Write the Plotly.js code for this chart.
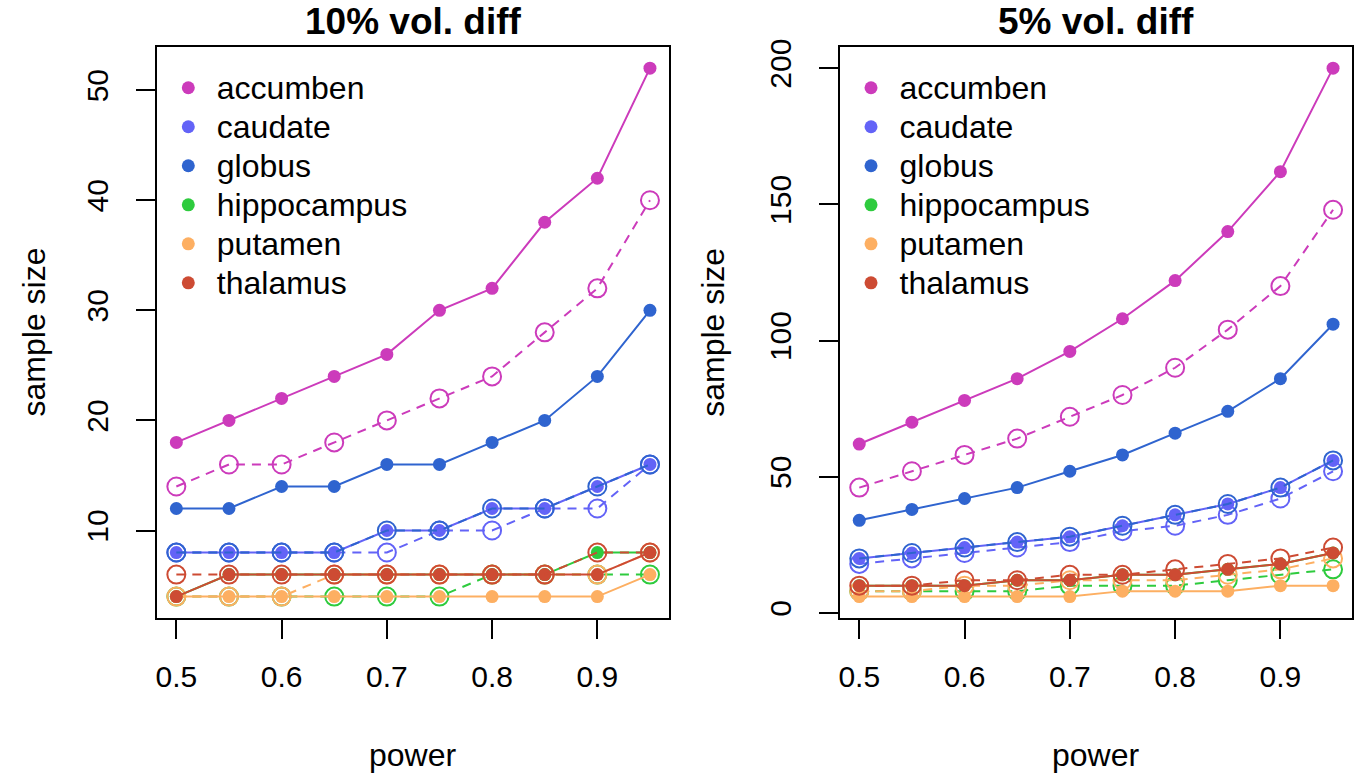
<!DOCTYPE html>
<html>
<head>
<meta charset="utf-8">
<script src="https://cdn.plot.ly/plotly-3.0.1.min.js"></script>
<style>html,body{margin:0;padding:0;background:#fff}#chart{width:1360px;height:777px}</style>
</head>
<body>
<div id="chart"></div>
<script>
// ---- data ----
const power = [0.5, 0.55, 0.6, 0.65, 0.7, 0.75, 0.8, 0.85, 0.9, 0.95];
const xTickVals = [0.5, 0.6, 0.7, 0.8, 0.9];
const xTickText = ['0.5', '0.6', '0.7', '0.8', '0.9'];
const structures = ['accumben', 'caudate', 'globus', 'hippocampus', 'putamen', 'thalamus'];
const colors = ['#CC3BBB', '#6363F7', '#2F64CF', '#2ECB3E', '#FDAF62', '#CD4B33'];
const panelTitles = ['10% vol. diff', '5% vol. diff'];
const yTicks10 = [10, 20, 30, 40, 50];
const yTicks5 = [0, 50, 100, 150, 200];

// 10% volume difference (solid = filled points, dashed = open points)
const accumben10_solid = [18, 20, 22, 24, 26, 30, 32, 38, 42, 52];
const accumben10_dash  = [14, 16, 16, 18, 20, 22, 24, 28, 32, 40];
const caudate10_solid  = [8, 8, 8, 8, 10, 10, 12, 12, 14, 16];
const caudate10_dash   = [8, 8, 8, 8, 8, 10, 10, 12, 12, 16];
const globus10_solid   = [12, 12, 14, 14, 16, 16, 18, 20, 24, 30];
const globus10_dash    = [8, 8, 8, 8, 10, 10, 12, 12, 14, 16];
const hippo10_solid    = [4, 6, 6, 6, 6, 6, 6, 6, 8, 8];
const hippo10_dash     = [4, 4, 4, 4, 4, 4, 6, 6, 6, 6];
const putamen10_solid  = [4, 4, 4, 4, 4, 4, 4, 4, 4, 6];
const putamen10_dash   = [4, 4, 4, 6, 6, 6, 6, 6, 6, 8];
const thalamus10_solid = [4, 6, 6, 6, 6, 6, 6, 6, 6, 8];
const thalamus10_dash  = [6, 6, 6, 6, 6, 6, 6, 6, 8, 8];

// 5% volume difference
const accumben5_solid = [62, 70, 78, 86, 96, 108, 122, 140, 162, 200];
const accumben5_dash  = [46, 52, 58, 64, 72, 80, 90, 104, 120, 148];
const caudate5_solid  = [20, 22, 24, 26, 28, 32, 36, 40, 46, 56];
const caudate5_dash   = [18, 20, 22, 24, 26, 30, 32, 36, 42, 52];
const globus5_solid   = [34, 38, 42, 46, 52, 58, 66, 74, 86, 106];
const globus5_dash    = [20, 22, 24, 26, 28, 32, 36, 40, 46, 56];
const hippo5_solid    = [10, 10, 10, 12, 12, 14, 14, 16, 18, 22];
const hippo5_dash     = [8, 8, 8, 8, 10, 10, 10, 12, 14, 16];
const putamen5_solid  = [6, 6, 6, 6, 6, 8, 8, 8, 10, 10];
const putamen5_dash   = [8, 8, 10, 10, 12, 12, 12, 14, 16, 20];
const thalamus5_solid = [10, 10, 10, 12, 12, 14, 14, 16, 18, 22];
const thalamus5_dash  = [10, 10, 12, 12, 14, 14, 16, 18, 20, 24];

const panel10 = [
  [accumben10_solid, accumben10_dash], [caudate10_solid, caudate10_dash],
  [globus10_solid, globus10_dash], [hippo10_solid, hippo10_dash],
  [putamen10_solid, putamen10_dash], [thalamus10_solid, thalamus10_dash]
];
const panel5 = [
  [accumben5_solid, accumben5_dash], [caudate5_solid, caudate5_dash],
  [globus5_solid, globus5_dash], [hippo5_solid, hippo5_dash],
  [putamen5_solid, putamen5_dash], [thalamus5_solid, thalamus5_dash]
];

// ---- traces ----
const FONT = 'Liberation Sans, Arial, Helvetica, sans-serif';
const traces = [];
function addPanel(panel, xa, ya, legendId) {
  panel.forEach((pair, i) => {
    traces.push({
      x: power, y: pair[0], xaxis: xa, yaxis: ya, type: 'scatter', mode: 'lines+markers',
      line: {color: colors[i], width: 2}, marker: {color: colors[i], size: 13, symbol: 'circle'},
      showlegend: false, hoverinfo: 'skip'
    });
    traces.push({
      x: power, y: pair[1], xaxis: xa, yaxis: ya, type: 'scatter', mode: 'lines+markers',
      line: {color: colors[i], width: 2, dash: '9px,7px'},
      marker: {color: colors[i], size: 18, symbol: 'circle-open', line: {width: 2, color: colors[i]}},
      showlegend: false, hoverinfo: 'skip'
    });
  });
  structures.forEach((name, i) => {
    traces.push({
      x: [null], y: [null], xaxis: xa, yaxis: ya, type: 'scatter', mode: 'markers',
      name: '<span style="font-size:32px">' + name + '</span>',
      marker: {color: colors[i], size: 13}, showlegend: true, legend: legendId
    });
  });
}
addPanel(panel10, 'x', 'y', 'legend');
addPanel(panel5, 'x2', 'y2', 'legend2');

function xAxis(domain, anchor) {
  return {
    domain: domain, anchor: anchor, range: [0.482, 0.968],
    tickvals: xTickVals, ticktext: xTickText,
    showline: true, mirror: true, linecolor: '#000', linewidth: 2,
    ticks: 'outside', ticklen: 19, tickwidth: 2, tickcolor: '#000',
    tickfont: {family: FONT, size: 30, color: '#000'}, ticklabelstandoff: 12,
    showgrid: false, zeroline: false, fixedrange: true
  };
}
function yAxis(domain, anchor, range, tv) {
  return {
    domain: domain, anchor: anchor, range: range,
    tickvals: tv, ticktext: tv.map(String), tickangle: -90,
    showline: true, mirror: true, linecolor: '#000', linewidth: 2,
    ticks: 'outside', ticklen: 19, tickwidth: 2, tickcolor: '#000',
    tickfont: {family: FONT, size: 30, color: '#000'}, ticklabelstandoff: 16,
    showgrid: false, zeroline: false, fixedrange: true
  };
}
const yDom = [0.2050, 0.9395];
const legendBase = {
  bgcolor: 'rgba(0,0,0,0)', borderwidth: 0, xanchor: 'left', yanchor: 'top',
  font: {family: FONT, size: 27.7, color: '#000'}, itemwidth: 47, tracegroupgap: 0
};

const layout = {
  width: 1360, height: 777,
  margin: {l: 0, r: 0, t: 0, b: 0},
  paper_bgcolor: '#fff', plot_bgcolor: '#fff',
  font: {family: FONT, color: '#000'},
  xaxis: xAxis([0.11574, 0.49184], 'y'),
  yaxis: yAxis(yDom, 'x', [2.08, 53.92], yTicks10),
  xaxis2: xAxis([0.61787, 0.99412], 'y2'),
  yaxis2: yAxis(yDom, 'x2', [-1.76, 207.76], yTicks5),
  legend: Object.assign({x: 0.1175, y: 0.9186}, legendBase),
  legend2: Object.assign({x: 0.6195, y: 0.9186}, legendBase),
  annotations: [
    {text: '<b>' + panelTitles[0] + '</b>', xref: 'paper', yref: 'paper', x: 0.3038, y: 0.9717,
     xanchor: 'center', yanchor: 'middle', showarrow: false, font: {family: FONT, size: 37, color: '#000'}},
    {text: '<b>' + panelTitles[1] + '</b>', xref: 'paper', yref: 'paper', x: 0.8059, y: 0.9717,
     xanchor: 'center', yanchor: 'middle', showarrow: false, font: {family: FONT, size: 37, color: '#000'}},
    {text: 'power', xref: 'paper', yref: 'paper', x: 0.3038, y: 0.0283,
     xanchor: 'center', yanchor: 'middle', showarrow: false, font: {family: FONT, size: 32, color: '#000'}},
    {text: 'power', xref: 'paper', yref: 'paper', x: 0.8059, y: 0.0283,
     xanchor: 'center', yanchor: 'middle', showarrow: false, font: {family: FONT, size: 32, color: '#000'}},
    {text: 'sample size', xref: 'paper', yref: 'paper', x: 0.0250, y: 0.5721, textangle: -90,
     xanchor: 'center', yanchor: 'middle', showarrow: false, font: {family: FONT, size: 32, color: '#000'}},
    {text: 'sample size', xref: 'paper', yref: 'paper', x: 0.5245, y: 0.5721, textangle: -90,
     xanchor: 'center', yanchor: 'middle', showarrow: false, font: {family: FONT, size: 32, color: '#000'}}
  ]
};

Plotly.newPlot('chart', traces, layout, {displayModeBar: false, staticPlot: true});
</script>
</body>
</html>
